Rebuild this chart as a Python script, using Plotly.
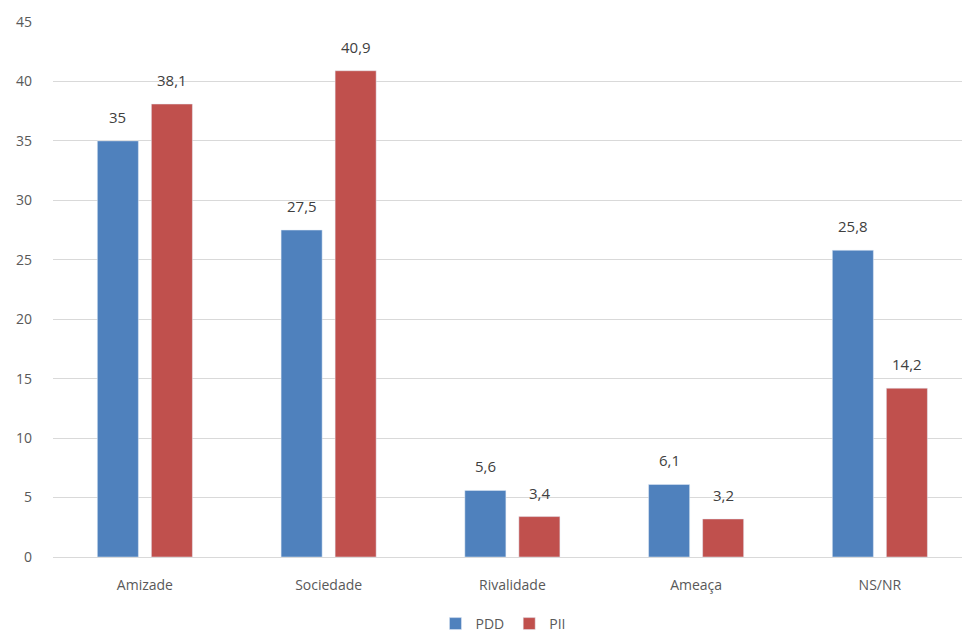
import plotly.graph_objects as go

categories = ["Amizade", "Sociedade", "Rivalidade", "Ameaça", "NS/NR"]
pdd = [35, 27.5, 5.6, 6.1, 25.8]
pii = [38.1, 40.9, 3.4, 3.2, 14.2]
y_ticks = [0, 5, 10, 15, 20, 25, 30, 35, 40, 45]

def fmt(v):
    return ("%g" % v).replace(".", ",")

font_fam = "Open Sans, Liberation Sans, sans-serif"
grey = "#595959"
xs = list(range(len(categories)))
bargap = 0.412
slot = (1 - bargap) / 2

fig = go.Figure()
fig.add_trace(go.Bar(x=xs, y=pdd, name="PDD", marker=dict(color="#4F81BD")))
fig.add_trace(go.Bar(x=xs, y=pii, name="PII", marker=dict(color="#C0504D")))

for series, off in ((pdd, -slot / 2), (pii, slot / 2)):
    for i, v in enumerate(series):
        fig.add_annotation(x=i + off, y=v, text=fmt(v), showarrow=False,
                           yanchor="bottom", yshift=12,
                           font=dict(size=15, color="#404040", family=font_fam))

fig.update_layout(
    width=962, height=640,
    margin=dict(l=53, r=0, t=22, b=83),
    plot_bgcolor="white", paper_bgcolor="white",
    barmode="group", bargap=bargap, bargroupgap=0.24,
    font=dict(family=font_fam, color=grey, size=14),
    showlegend=True,
    legend=dict(orientation="h", x=0.495, xanchor="center", yref="container", y=-0.019,
                yanchor="bottom", font=dict(size=14, color=grey), itemwidth=30,
                traceorder="normal"),
)
fig.update_xaxes(
    tickmode="array", tickvals=xs, ticktext=categories, automargin=False,
    range=[-0.5, -0.5 + 909 / 183.75], showgrid=False, showline=False, zeroline=False,
    ticks="", ticklabelstandoff=18, tickfont=dict(size=14, color=grey),
)
fig.update_yaxes(
    range=[0, 45], tickvals=y_ticks, showgrid=True, gridcolor="#D9D9D9", gridwidth=1,
    zeroline=True, zerolinecolor="#D9D9D9", zerolinewidth=1, showline=False,
    automargin=False, ticks="", ticklabelstandoff=20,
    tickfont=dict(size=14, color=grey),
)
fig.write_html("out.html", config={"displayModeBar": False},
               post_script="document.body.style.margin='0';document.body.style.overflow='hidden';")
